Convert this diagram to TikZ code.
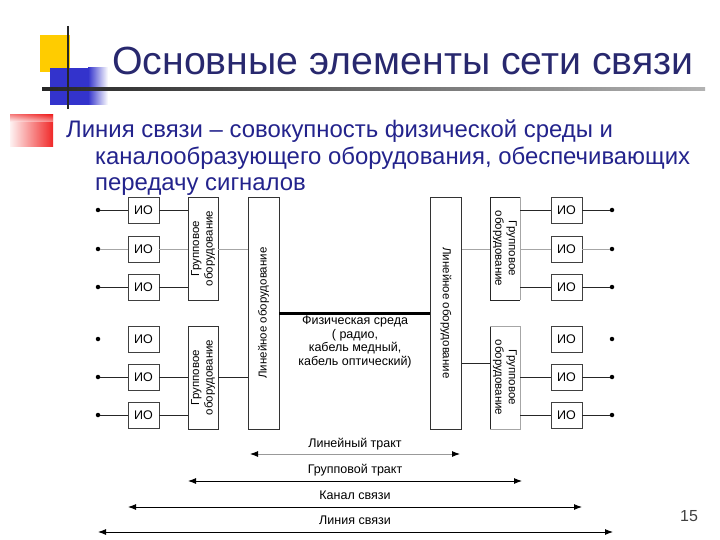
\documentclass[tikz,border=0pt]{standalone}
\usepackage{fontspec}
\setmainfont{Liberation Sans}
\usetikzlibrary{arrows.meta,calc}
\definecolor{titleblue}{RGB}{40,40,110}
\definecolor{bodyblue}{RGB}{35,35,140}
\definecolor{decoyellow}{RGB}{255,204,0}
\definecolor{decoblue}{RGB}{51,51,204}
\definecolor{decored}{RGB}{240,40,40}
\tikzset{
  dfont/.style={font=\fontsize{11.5}{13.5}\selectfont},
  iobox/.style={draw=black!75, line width=0.8pt, minimum width=31pt, minimum height=26pt, inner sep=0pt, font=\fontsize{12.5}{14}\selectfont},
  grpL/.style={draw=black!80, line width=0.8pt, rotate=90, minimum width=103pt, minimum height=30pt, inner sep=0pt, align=center, dfont},
  grpR/.style={rotate=-90, minimum width=103pt, minimum height=30pt, inner sep=0pt, align=center, dfont},
  linebox/.style={draw=black!80, line width=0.8pt, minimum width=232pt, minimum height=31pt, inner sep=0pt, dfont},
  dotnode/.style={circle, fill=black, inner sep=0pt, minimum size=4.5pt},
  wire/.style={line width=0.8pt, black!85},
  faint/.style={line width=0.8pt, black!35},
  span/.style={line width=0.9pt, {Latex[length=8pt,width=6pt]}-{Latex[length=8pt,width=6pt]}},
  spanlabel/.style={font=\fontsize{12.5}{14}\selectfont, inner sep=0pt}
}
\begin{document}
\begin{tikzpicture}[x=1pt,y=-1pt]
\useasboundingbox (0,0) rectangle (720,540);
% --- decoration ---
\fill[decoyellow] (40,35) rectangle (70,72);
\fill[decoblue] (50,68) rectangle (88,105);
\shade[left color=decoblue, right color=white] (88,68) rectangle (108,105);
\shade[left color=black!85, right color=black!30] (42,88) rectangle (705,90.5);
\draw[line width=2.5pt, black!85] (68,26) -- (68,109);
\shade[left color=decored!6, right color=decored] (10,115) rectangle (53,147);
\shade[top color=decored, bottom color=decored!0, opacity=0.5] (10,115) rectangle (53,122);
% --- title and text ---
\node[anchor=west, text=titleblue, font=\fontsize{39.3}{41}\selectfont, inner sep=0pt] (title) at (112,61) {Основные элементы сети связи};
\node[anchor=base west, text=bodyblue, font=\fontsize{23.9}{26}\selectfont, inner sep=0pt] (b1) at (66,138) {Линия связи – совокупность физической среды и};
\node[anchor=base west, text=bodyblue, font=\fontsize{23.9}{26}\selectfont, inner sep=0pt] (b2) at (95,165) {каналообразующего оборудования, обеспечивающих};
\node[anchor=base west, text=bodyblue, font=\fontsize{23.9}{26}\selectfont, inner sep=0pt] (b3) at (95,191) {передачу сигналов};
% --- IO boxes and dots ---
\foreach \i/\y in {1/210,2/249,3/287,4/339,5/377,6/415}{
  \node[iobox] (L\i) at (143.5,\y) {ИО};
  \node[iobox] (R\i) at (566.5,\y) {ИО};
  \node[dotnode] (dl\i) at (98,\y) {};
  \node[dotnode] (dr\i) at (612,\y) {};
}
% --- group equipment ---
\node[grpL] (gL1) at (203,248.5) {Групповое\\оборудование};
\node[grpL] (gL2) at (203,377.5) {Групповое\\оборудование};
\node[grpR] (gR1) at (505,248.5) {Групповое\\оборудование};
\node[grpR] (gR2) at (505,377.5) {Групповое\\оборудование};
% right groups: bracket outlines
\draw[wire] ($(gR1.center)+(15,-51.5)$) -- ($(gR1.center)+(-15,-51.5)$) -- ($(gR1.center)+(-15,51.5)$) -- ($(gR1.center)+(15,51.5)$);
\draw[faint] ($(gR1.center)+(15,-51.5)$) -- ($(gR1.center)+(15,51.5)$);
\draw[wire] ($(gR2.center)+(-15,-51.5)$) -- ($(gR2.center)+(-15,51.5)$);
\draw[faint] ($(gR2.center)+(-15,-51.5)$) -- ($(gR2.center)+(15,-51.5)$) -- ($(gR2.center)+(15,51.5)$) -- ($(gR2.center)+(-15,51.5)$);
% --- line equipment ---
\node[linebox, rotate=90] (lineL) at (263.5,313) {Линейное оборудование};
\node[linebox, rotate=-90] (lineR) at (446,313) {Линейное оборудование};
% --- physical medium ---
\draw[line width=3pt, black] (lineL.south) -- (lineR.south);
\node[anchor=north, align=center, font=\fontsize{12.5}{13.5}\selectfont, inner sep=0pt] (phys) at (355,316) {Физическая среда\\( радио,\\кабель медный,\\кабель оптический)};
% --- wiring ---
\foreach \i in {1,3,5,6}{
  \draw[wire] (dl\i) -- (L\i.west);
  \draw[wire] (R\i.east) -- (dr\i);
}
\draw[faint] (dl2) -- (L2.west);
\draw[faint] (R2.east) -- (dr2);
\foreach \i in {1,3}{
  \draw[wire] (L\i.east) -- (L\i.east -| gL1.north);
  \draw[wire] (R\i.west) -- (R\i.west -| gR1.north);
}
\draw[faint] (L2.east) -- (L2.east -| gL1.north);
\draw[faint] (R2.west) -- (R2.west -| gR1.north);
\foreach \i in {5,6}{
  \draw[wire] (L\i.east) -- (L\i.east -| gL2.north);
  \draw[wire] (R\i.west) -- (R\i.west -| gR2.north);
}
\draw[faint] (L2.east -| gL1.south) -- (L2.east -| lineL.north);
\draw[faint] (R2.west -| gR1.south) -- (R2.west -| lineR.north);
\draw[wire] (L5.east -| gL2.south) -- (L5.east -| lineL.north);
\coordinate (cR) at (475,363);
\draw[wire] (cR -| lineR.north) -- (cR -| gR2.south);
% --- spans ---
\coordinate (s1l) at (250,454); \coordinate (s1r) at (460,454);
\coordinate (s2l) at (188,481); \coordinate (s2r) at (522,481);
\coordinate (s3l) at (128,507); \coordinate (s3r) at (582,507);
\coordinate (s4l) at (98,532);  \coordinate (s4r) at (613,532);
\draw[span, draw=black!40, {Latex[length=8pt,width=6pt,black]}-{Latex[length=8pt,width=6pt,black]}] (s1l) -- (s1r);
\draw[span] (s2l) -- (s2r);
\draw[span] (s3l) -- (s3r);
\draw[span] (s4l) -- (s4r);
\node[spanlabel] (t1) at (355,444) {Линейный тракт};
\node[spanlabel] (t2) at (355,470) {Групповой тракт};
\node[spanlabel] (t3) at (355,495) {Канал связи};
\node[spanlabel] (t4) at (355,520) {Линия связи};
\node[font=\fontsize{16}{18}\selectfont, text=black!75, inner sep=0pt] (pg) at (689,516) {15};
\end{tikzpicture}
\end{document}
